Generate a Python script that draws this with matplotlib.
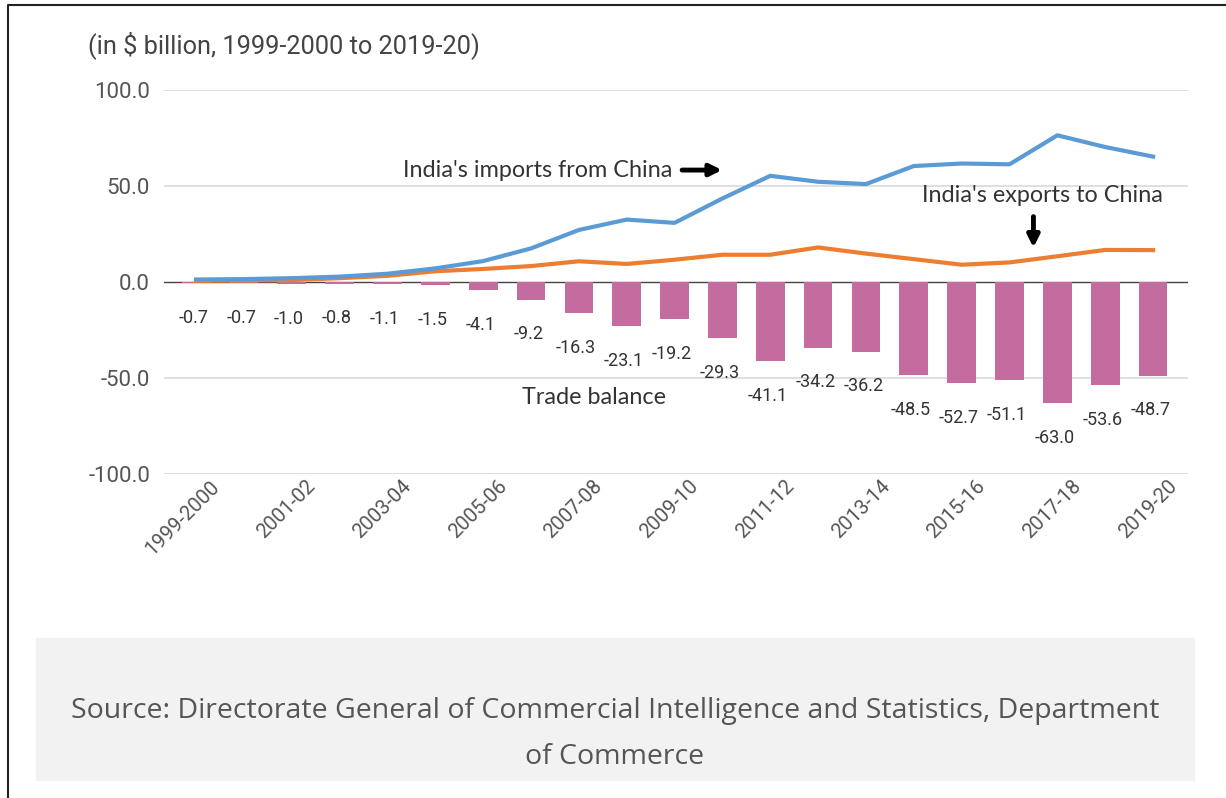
import matplotlib
matplotlib.use("Agg")
import matplotlib.pyplot as plt
from matplotlib.patches import Rectangle
from matplotlib.lines import Line2D
from matplotlib.transforms import ScaledTranslation
import numpy as np

# data (in $ billion)
years = ["1999-2000", "2000-01", "2001-02", "2002-03", "2003-04", "2004-05",
         "2005-06", "2006-07", "2007-08", "2008-09", "2009-10", "2010-11",
         "2011-12", "2012-13", "2013-14", "2014-15", "2015-16", "2016-17",
         "2017-18", "2018-19", "2019-20"]
imports = [1.3, 1.5, 2.0, 2.8, 4.3, 7.1, 10.9, 17.5, 27.1, 32.5, 30.8, 43.5,
           55.3, 52.2, 51.0, 60.4, 61.7, 61.3, 76.4, 70.3, 65.3]
exports = [0.6, 0.8, 1.0, 2.0, 3.2, 5.6, 6.8, 8.3, 10.8, 9.4, 11.6, 14.2,
           14.2, 18.0, 14.8, 11.9, 9.0, 10.2, 13.4, 16.7, 16.6]
balance = [-0.7, -0.7, -1.0, -0.8, -1.1, -1.5, -4.1, -9.2, -16.3, -23.1, -19.2,
           -29.3, -41.1, -34.2, -36.2, -48.5, -52.7, -51.1, -63.0, -53.6, -48.7]
yticks = [-100, -50, 0, 50, 100]

W, H = 1226, 798
fig = plt.figure(figsize=(W / 100, H / 100), dpi=100)
fig.patch.set_facecolor("white")

ax = fig.add_axes([164 / W, 1 - 474 / H, (1188 - 164) / W, (474 - 90) / H])
x = np.arange(len(years))

for v in yticks:
    if v != 0:
        ax.axhline(v, color="#d9d9d9", lw=1.2, zorder=0)

ax.bar(x, balance, width=0.6, color="#c46ca0", zorder=2)
ax.axhline(0, color="#444444", lw=1, zorder=1)
ax.plot(x, exports, color="#ed7d31", lw=3, zorder=3, solid_joinstyle="round")
ax.plot(x, imports, color="#5b9bd5", lw=3, zorder=4, solid_joinstyle="round")

# bar value labels
for xi, b in zip(x, balance):
    ax.annotate(f"{b:.1f}", (xi, b), xytext=(-2, -25), textcoords="offset points",
                ha="center", va="center", fontsize=13, family="Roboto",
                color="#333333")

ax.set_xlim(-0.67, 20.73)
ax.set_ylim(-100, 100)
ax.set_yticks(yticks)
ax.set_yticklabels([f"{v:.1f}" for v in yticks], family="Roboto",
                   fontsize=16, color="#555555")
ax.set_xticks(x[::2])
ax.set_xticklabels(years[::2], rotation=45, ha="right", rotation_mode="anchor",
                   family="Roboto", fontsize=14.5, color="#555555")
ax.tick_params(length=0, pad=10)
ax.tick_params(axis="x", pad=2)
shift = ScaledTranslation(14 / 100, 0, fig.dpi_scale_trans)
for t in ax.get_xticklabels():
    t.set_transform(t.get_transform() + shift)
for s in ax.spines.values():
    s.set_visible(False)

# annotations
lab = dict(family="Lato", fontsize=16.8, color="#333333")
ax.text(4.33, 58.3, "India's imports from China", ha="left", va="center", **lab)
ax.annotate("", xy=(11.05, 58.3), xytext=(10.1, 58.3),
            arrowprops=dict(arrowstyle="-|>,head_width=0.35,head_length=0.7",
                            color="black", lw=3.5))
ax.text(15.17, 44.8, "India's exports to China", ha="left", va="center", **lab)
ax.annotate("", xy=(17.5, 16.5), xytext=(17.5, 35.5),
            arrowprops=dict(arrowstyle="-|>,head_width=0.35,head_length=0.7",
                            color="black", lw=3.5))
ax.text(6.81, -60.4, "Trade balance", ha="left", va="center", **lab)

# title
fig.text(88 / W, 1 - 45 / H, "(in $ billion, 1999-2000 to 2019-20)",
         family="Roboto", fontsize=18.3, color="#444444", ha="left", va="center")

# source box
fig.patches.append(Rectangle((36 / W, 1 - 780 / H), (1194 - 36) / W, (780 - 638) / H,
                             transform=fig.transFigure, color="#f2f2f2", zorder=0))
fig.text(615 / W, 1 - 711 / H,
         "Source: Directorate General of Commercial Intelligence and Statistics, Department",
         family="Open Sans", fontsize=20.5, color="#555555", ha="center", va="center")
fig.text(615 / W, 1 - 757 / H, "of Commerce",
         family="Open Sans", fontsize=20.5, color="#555555", ha="center", va="center")

# outer frame
fig.lines.append(Line2D([7.5 / W, 7.5 / W, 1.0], [0, 1 - 4.5 / H, 1 - 4.5 / H],
                        transform=fig.transFigure, color="#222222", lw=1.5))

fig.savefig("out.png", dpi=100)
